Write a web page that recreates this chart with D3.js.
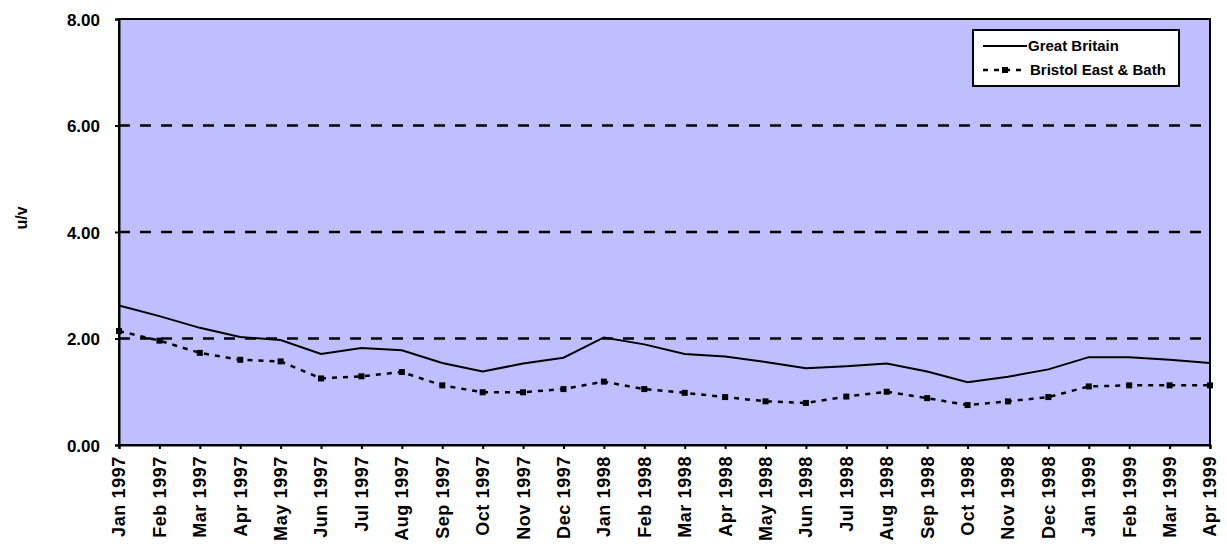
<!DOCTYPE html>
<html>
<head>
<meta charset="utf-8">
<script src="https://cdn.jsdelivr.net/npm/d3@7"></script>
<style>
  body { margin: 0; background: #ffffff; }
  svg { display: block; }
  text { font-family: "Liberation Sans", Arial, sans-serif; font-weight: bold; fill: #000; }
</style>
</head>
<body>
<svg id="chart" width="1227" height="546"></svg>
<script>
const categories = ["Jan 1997","Feb 1997","Mar 1997","Apr 1997","May 1997","Jun 1997","Jul 1997","Aug 1997","Sep 1997","Oct 1997","Nov 1997","Dec 1997",
  "Jan 1998","Feb 1998","Mar 1998","Apr 1998","May 1998","Jun 1998","Jul 1998","Aug 1998","Sep 1998","Oct 1998","Nov 1998","Dec 1998",
  "Jan 1999","Feb 1999","Mar 1999","Apr 1999"];
const greatBritain = [2.62,2.42,2.20,2.03,1.97,1.71,1.82,1.78,1.54,1.38,1.53,1.64,
  2.02,1.89,1.71,1.66,1.56,1.44,1.48,1.53,1.38,1.18,1.28,1.42,
  1.65,1.65,1.60,1.54];
const bristolEastBath = [2.14,1.96,1.73,1.60,1.57,1.25,1.29,1.37,1.12,0.99,0.99,1.05,
  1.19,1.05,0.98,0.90,0.82,0.79,0.91,1.00,0.88,0.75,0.82,0.90,
  1.10,1.12,1.12,1.12];
const yTicks = [0, 2, 4, 6, 8];
const yTickLabels = ["0.00","2.00","4.00","6.00","8.00"];
const seriesNames = ["Great Britain", "Bristol East & Bath"];
const yTitle = "u/v";

const svg = d3.select("#chart");
const W = 1227, H = 546;
const m = {left: 119, right: 17, top: 19, bottom: 101};
const iw = W - m.left - m.right, ih = H - m.top - m.bottom;

const x = d3.scalePoint().domain(categories).range([0, iw]);
const y = d3.scaleLinear().domain([0, 8]).range([ih, 0]);

const g = svg.append("g").attr("transform", `translate(${m.left},${m.top})`);

// plot background
g.append("rect").attr("x", 0).attr("y", 0).attr("width", iw).attr("height", ih)
  .attr("fill", "#bfbfff");

// dashed gridlines
g.selectAll(".grid").data(yTicks.filter(d => d > 0 && d < 8)).enter().append("line")
  .attr("x1", 0).attr("x2", iw)
  .attr("y1", d => y(d)).attr("y2", d => y(d))
  .attr("stroke", "#000").attr("stroke-width", 2.5).attr("stroke-dasharray", "11,10");

// border
g.append("rect").attr("x", 0).attr("y", 0).attr("width", iw).attr("height", ih)
  .attr("fill", "none").attr("stroke", "#000").attr("stroke-width", 2);

// y axis
const yAxis = d3.axisLeft(y).tickValues(yTicks).tickSize(4).tickPadding(16)
  .tickFormat((d, i) => yTickLabels[i]);
const ya = g.append("g").call(yAxis);
ya.select(".domain").attr("stroke", "#000").attr("stroke-width", 2);
ya.selectAll(".tick line").attr("stroke", "#000").attr("stroke-width", 2);
ya.selectAll(".tick text").attr("font-size", 17).attr("font-family", "Liberation Sans, Arial, sans-serif")
  .attr("font-weight", "bold").attr("x", -19).attr("dy", "0.36em");

// x axis
const xAxis = d3.axisBottom(x).tickSize(4).tickPadding(0);
const xa = g.append("g").attr("transform", `translate(0,${ih})`).call(xAxis);
xa.select(".domain").attr("stroke", "#000").attr("stroke-width", 2);
xa.selectAll(".tick line").attr("stroke", "#000").attr("stroke-width", 2);
xa.selectAll(".tick text")
  .attr("font-size", 18).attr("font-family", "Liberation Sans, Arial, sans-serif").attr("font-weight", "bold")
  .attr("text-anchor", "end")
  .attr("transform", "rotate(-90)")
  .attr("x", -11).attr("y", 0).attr("dy", "0.33em")
  .style("letter-spacing", "0.6px");

// y title
svg.append("text").attr("transform", `translate(27,${218}) rotate(-90)`)
  .attr("text-anchor", "middle").attr("font-size", 16).text(yTitle);

// lines
const line = d3.line().x((d, i) => x(categories[i])).y(d => y(d));
g.append("path").datum(greatBritain).attr("d", line)
  .attr("fill", "none").attr("stroke", "#000").attr("stroke-width", 2);
g.append("path").datum(bristolEastBath).attr("d", line)
  .attr("fill", "none").attr("stroke", "#000").attr("stroke-width", 2.5).attr("stroke-dasharray", "5,6");
g.selectAll(".mk").data(bristolEastBath).enter().append("rect")
  .attr("x", (d, i) => x(categories[i]) - 3).attr("y", d => y(d) - 3)
  .attr("width", 6).attr("height", 6).attr("fill", "#000");

// legend
const lg = svg.append("g").attr("transform", "translate(973,30)");
lg.append("rect").attr("width", 206).attr("height", 56).attr("fill", "#fff")
  .attr("stroke", "#000").attr("stroke-width", 2);
lg.append("line").attr("x1", 10).attr("x2", 54).attr("y1", 16).attr("y2", 16)
  .attr("stroke", "#000").attr("stroke-width", 2);
lg.append("text").attr("x", 55).attr("y", 16).attr("dy", "0.36em").attr("font-size", 15).text(seriesNames[0]);
lg.append("line").attr("x1", 10).attr("x2", 54).attr("y1", 40).attr("y2", 40)
  .attr("stroke", "#000").attr("stroke-width", 2.5).attr("stroke-dasharray", "5,6");
lg.append("rect").attr("x", 29).attr("y", 37).attr("width", 6).attr("height", 6).attr("fill", "#000");
lg.append("text").attr("x", 57).attr("y", 40).attr("dy", "0.36em").attr("font-size", 15).text(seriesNames[1]);
</script>
</body>
</html>
